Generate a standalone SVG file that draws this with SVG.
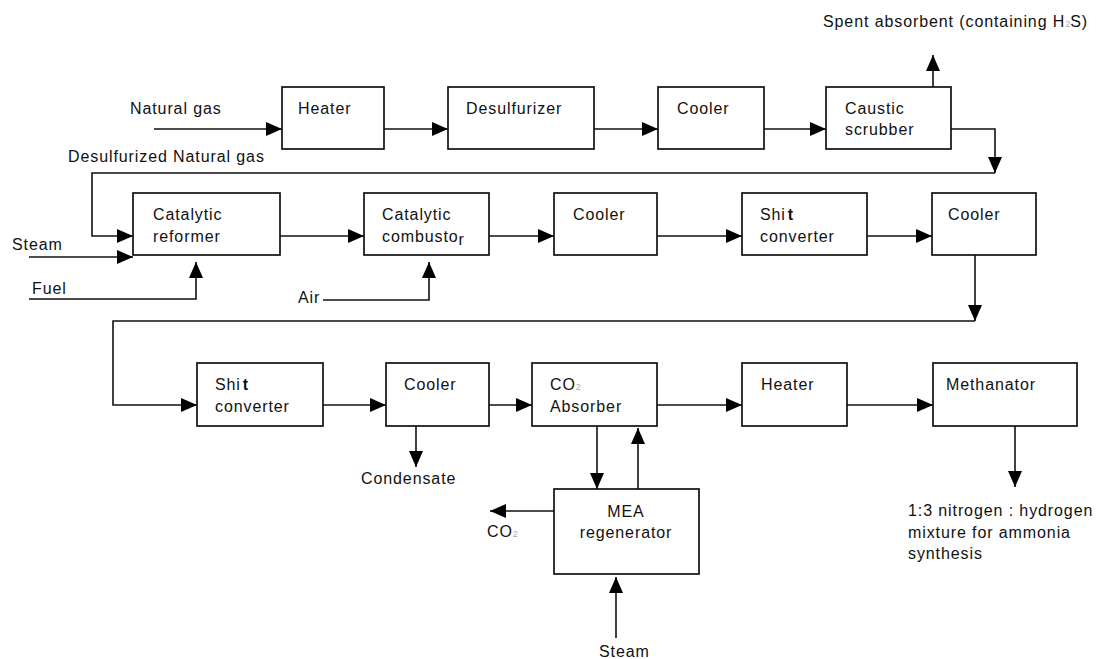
<svg xmlns="http://www.w3.org/2000/svg" width="1102" height="659" viewBox="0 0 1102 659">
<defs>
<marker id="ah" markerUnits="userSpaceOnUse" markerWidth="18" markerHeight="16" refX="16" refY="7" orient="auto">
<path d="M0,0 L16,7 L0,14 z" fill="#000"/>
</marker>
<style>
text{font-family:"Liberation Sans",Arial,sans-serif;font-size:16px;letter-spacing:0.9px;fill:#111}
.box{fill:#fff;stroke:#111;stroke-width:1.7}
.c{fill:none;stroke:#111;stroke-width:1.6}
.a{marker-end:url(#ah)}
.sub{font-size:9px;fill:#aaa;letter-spacing:0}
</style>
</defs>
<rect width="1102" height="659" fill="#fff"/>
<g id="connectors">
<path class="c a" d="M154,129 H282"/>
<path class="c a" d="M384,129 H448"/>
<path class="c a" d="M594,129 H658"/>
<path class="c a" d="M764,129 H826"/>
<path class="c a" d="M951,129 H995 V173"/>
<path class="c a" d="M995,173 H92 V236 H133"/>
<path class="c a" d="M933,87 V55"/>
<path class="c a" d="M29,257 H133"/>
<path class="c a" d="M29,299 H196 V262"/>
<path class="c a" d="M323,300 H429 V262"/>
<path class="c a" d="M280,236 H364"/>
<path class="c a" d="M489,236 H554"/>
<path class="c a" d="M657,236 H742"/>
<path class="c a" d="M867,236 H932"/>
<path class="c a" d="M975,255 V321"/>
<path class="c a" d="M975,321 H113 V405 H197"/>
<path class="c a" d="M323,405 H386"/>
<path class="c a" d="M489,405 H532"/>
<path class="c a" d="M657,405 H742"/>
<path class="c a" d="M847,405 H933"/>
<path class="c a" d="M416,426 V467"/>
<path class="c a" d="M597,426 V489"/>
<path class="c a" d="M638,489 V428"/>
<path class="c a" d="M554,511 H490"/>
<path class="c a" d="M616,638 V577"/>
<path class="c a" d="M1015,426 V487"/>
</g>
<g id="heater1"><rect class="box" x="282" y="87" width="102" height="62"/><text x="298" y="114">Heater</text></g>
<g id="desulfurizer"><rect class="box" x="448" y="87" width="146" height="62"/><text x="466" y="114">Desulfurizer</text></g>
<g id="cooler1"><rect class="box" x="658" y="87" width="106" height="62"/><text x="677" y="114">Cooler</text></g>
<g id="caustic"><rect class="box" x="826" y="87" width="125" height="62"/><text x="845" y="114">Caustic</text><text x="845" y="135">scrubber</text></g>
<g id="reformer"><rect class="box" x="133" y="193" width="147" height="62"/><text x="153" y="220">Catalytic</text><text x="153" y="242">reformer</text></g>
<g id="combustor"><rect class="box" x="364" y="193" width="125" height="62"/><text x="382" y="220">Catalytic</text><text x="382" y="242">combusto<tspan dy="3">r</tspan></text></g>
<g id="cooler2"><rect class="box" x="554" y="193" width="103" height="62"/><text x="573" y="220">Cooler</text></g>
<g id="shift1"><rect class="box" x="742" y="193" width="125" height="62"/><text x="760" y="220">Shi<tspan dx="2" font-weight="bold">t</tspan></text><text x="760" y="242">converter</text></g>
<g id="cooler3"><rect class="box" x="932" y="193" width="104" height="62"/><text x="948" y="220">Cooler</text></g>
<g id="shift2"><rect class="box" x="197" y="363" width="126" height="63"/><text x="215" y="390">Shi<tspan dx="2" font-weight="bold">t</tspan></text><text x="215" y="412">converter</text></g>
<g id="cooler4"><rect class="box" x="386" y="363" width="103" height="63"/><text x="404" y="390">Cooler</text></g>
<g id="absorber"><rect class="box" x="532" y="363" width="125" height="63"/><text x="550" y="390">CO<tspan class="sub">2</tspan></text><text x="550" y="412">Absorber</text></g>
<g id="heater2"><rect class="box" x="742" y="363" width="105" height="63"/><text x="761" y="390">Heater</text></g>
<g id="methanator"><rect class="box" x="933" y="363" width="144" height="63"/><text x="946" y="390">Methanator</text></g>
<g id="mea"><rect class="box" x="554" y="489" width="145" height="85"/><text x="626" y="517" text-anchor="middle">MEA</text><text x="626" y="538" text-anchor="middle">regenerator</text></g>
<g id="labels">
<text x="130" y="114">Natural gas</text>
<text x="68" y="162">Desulfurized Natural gas</text>
<text x="823" y="27">Spent absorbent (containing H<tspan class="sub">2</tspan>S)</text>
<text x="12" y="250">Steam</text>
<text x="32" y="294">Fuel</text>
<text x="298" y="303">Air</text>
<text x="361" y="484">Condensate</text>
<text x="487" y="537">CO<tspan class="sub">2</tspan></text>
<text x="599" y="657">Steam</text>
<text x="908" y="516">1:3 nitrogen : hydrogen</text>
<text x="908" y="538">mixture for ammonia</text>
<text x="908" y="559">synthesis</text>
</g>
</svg>
